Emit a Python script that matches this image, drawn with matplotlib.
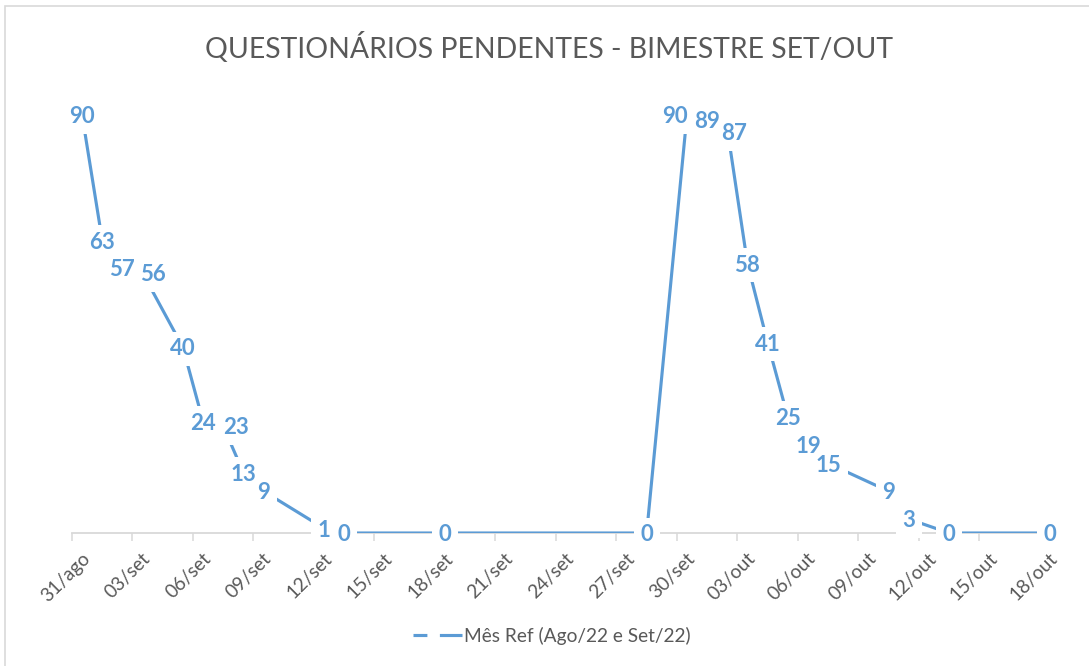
import matplotlib
matplotlib.use("Agg")
import matplotlib.pyplot as plt
import pandas as pd
from matplotlib.lines import Line2D
from matplotlib.patches import Rectangle
from matplotlib.transforms import ScaledTranslation

plt.rcParams['font.family'] = ['Lato', 'DejaVu Sans']
plt.rcParams['lines.scale_dashes'] = False

# ---- data ----
dates = ["2022-08-31", "2022-09-01", "2022-09-02", "2022-09-03", "2022-09-05",
         "2022-09-06", "2022-09-07", "2022-09-08", "2022-09-09", "2022-09-12",
         "2022-09-13", "2022-09-18", "2022-09-28", "2022-09-30", "2022-10-01",
         "2022-10-02", "2022-10-03", "2022-10-04", "2022-10-05", "2022-10-06",
         "2022-10-07", "2022-10-10", "2022-10-11", "2022-10-13", "2022-10-18"]
pendentes = [90, 63, 57, 56, 40, 24, 23, 13, 9, 1, 0, 0, 0, 90, 89, 87, 58, 41,
             25, 19, 15, 9, 3, 0, 0]
tick_labels = ["31/ago", "03/set", "06/set", "09/set", "12/set", "15/set",
               "18/set", "21/set", "24/set", "27/set", "30/set", "03/out",
               "06/out", "09/out", "12/out", "15/out", "18/out"]
series_name = "Mês Ref (Ago/22 e Set/22)"
title = "QUESTIONÁRIOS PENDENTES - BIMESTRE SET/OUT"

# nudges of some data labels (points), as placed in the original
label_nudge = {"2022-09-03": (7.2, 0), "2022-09-07": (9.0, 0),
               "2022-09-30": (-8.6, 0), "2022-10-02": (5.0, -2.0)}

BLUE = "#5B9BD5"
GRAY_TXT = "#595959"
GRAY_AX = "#D9D9D9"

W, H = 1089, 666
fig = plt.figure(figsize=(W / 100, H / 100), dpi=100)

# chart border (Excel chart area)
fig.add_artist(Rectangle((5 / W, 0 - 0.02), 1.1, 1 - 6 / H + 0.02,
                         transform=fig.transFigure, fill=False,
                         edgecolor=GRAY_AX, linewidth=1.2))

x0, x1 = 72, 1060
y0, ytop = 533, 533 - 100 * 4.644
ax = fig.add_axes([x0 / W, (H - y0) / H, (x1 - x0) / W, (y0 - ytop) / H])

start = pd.Timestamp(dates[0])
days = [(pd.Timestamp(d) - start).days + 0.5 for d in dates]

ax.plot(days, pendentes, color=BLUE, linewidth=2.25, zorder=3,
        solid_capstyle='butt', label=series_name)

lab_kw = dict(textcoords='offset points', ha='center', va='center',
              fontsize=16, fontweight='bold', annotation_clip=False)


def label_offset(d):
    dx, dy = label_nudge.get(d, (0, 0))
    return (dx, dy - 1.2)


for d, xd, v in zip(dates, days, pendentes):
    # white label box (hides the line under the label)
    ax.annotate(str(v), (xd, v), xytext=label_offset(d), color='white',
                zorder=5,
                bbox=dict(boxstyle='square,pad=0.3', fc='white', ec='none'),
                **lab_kw)
for d, xd, v in zip(dates, days, pendentes):
    ax.annotate(str(v), (xd, v), xytext=label_offset(d), color=BLUE,
                zorder=6, **lab_kw)

ax.set_xlim(0, 49)
ax.set_ylim(0, 100)
ax.set_xticks(range(0, 49, 3))
ax.set_xticklabels(tick_labels)
ax.set_yticks([])
for s in ['left', 'right', 'top']:
    ax.spines[s].set_visible(False)
ax.spines['bottom'].set_color(GRAY_AX)
ax.spines['bottom'].set_linewidth(1.3)
ax.spines['bottom'].set_zorder(2)
ax.tick_params(axis='x', direction='out', length=5.5, width=1.1,
               color=GRAY_AX, labelcolor=GRAY_TXT, labelsize=13.8, pad=11)
off = ScaledTranslation(15 / 100, 0, fig.dpi_scale_trans)
for lab in ax.get_xticklabels():
    lab.set_rotation(45)
    lab.set_ha('right')
    lab.set_va('center')
    lab.set_rotation_mode('anchor')
    lab.set_transform(lab.get_transform() + off)

fig.text(549 / W, 1 - 48 / H, title, ha='center', va='center',
         fontsize=20.4, color=GRAY_TXT)

handle = Line2D([], [], color=BLUE, linewidth=2.25,
                linestyle=(0, (10, 9, 30, 1)))
fig.legend(handles=[handle], labels=[series_name], loc='center',
           bbox_to_anchor=(552 / W, 1 - 636 / H), frameon=False,
           fontsize=13.8, labelcolor=GRAY_TXT, handlelength=2.55,
           handletextpad=0.12)

fig.savefig("out.png", dpi=100, facecolor='white')
